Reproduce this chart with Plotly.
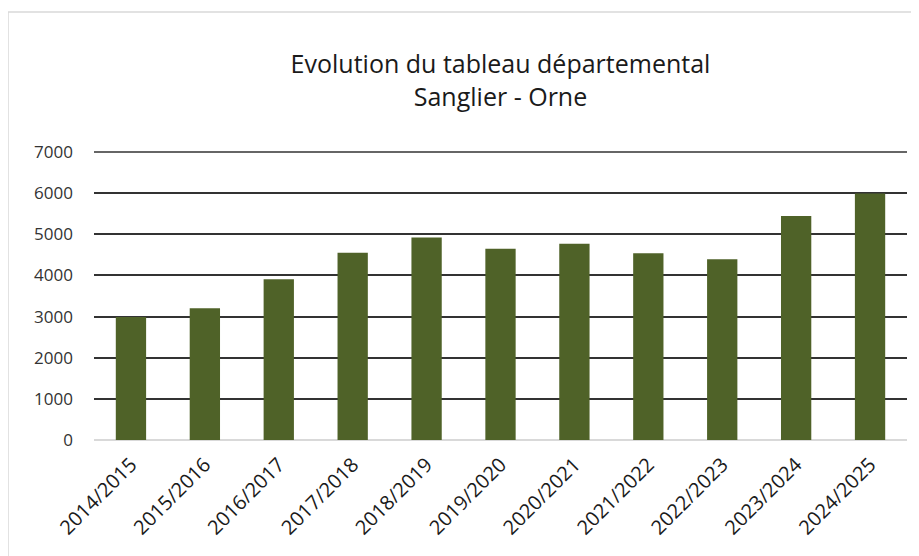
import plotly.graph_objects as go

saisons = ["2014/2015", "2015/2016", "2016/2017", "2017/2018", "2018/2019",
           "2019/2020", "2020/2021", "2021/2022", "2022/2023", "2023/2024", "2024/2025"]
realisations = [2990, 3200, 3910, 4550, 4920, 4650, 4770, 4540, 4395, 5445, 5990]
y_ticks = [0, 1000, 2000, 3000, 4000, 5000, 6000, 7000]

FONT = "Open Sans"

# page body has an 8px default margin: the figure is sized to fit the window
W, H = 911, 548

fig = go.Figure()
fig.add_trace(go.Bar(
    x=saisons, y=realisations,
    marker=dict(color="#4f6228", line=dict(width=0)),
    hoverinfo="x+y",
))

fig.update_layout(
    width=W, height=H,
    margin=dict(l=86, r=12, t=144, b=116),
    paper_bgcolor="white", plot_bgcolor="white",
    bargap=0.59,
    showlegend=False,
    title=dict(
        text="Evolution du tableau départemental<br>Sanglier - Orne",
        x=0.5, xref="paper", xanchor="center",
        y=1 - 65 / H, yref="container", yanchor="middle",
        font=dict(family=FONT, size=25, color="#1a1a1a"),
    ),
    font=dict(family=FONT, color="#333333"),
    xaxis=dict(
        tickangle=-45, tickfont=dict(size=20, color="#1a1a1a"),
        showgrid=False, showline=False, zeroline=False, ticks="",
        ticklabelstandoff=8,
    ),
    yaxis=dict(
        range=[0, 7000], tickvals=y_ticks,
        tickfont=dict(size=17, color="#333333"),
        showgrid=True, gridcolor="#333333", gridwidth=1.5,
        zeroline=True, zerolinecolor="#d9d9d9", zerolinewidth=1.5,
        showline=False, ticks="", ticklabelstandoff=20,
    ),
    shapes=[
        dict(type="rect", xref="paper", yref="paper",
             x0=-86 / 813, x1=1.1, y0=-0.6, y1=1 + 140 / 288,
             line=dict(color="#d9d9d9", width=1.5), fillcolor="rgba(0,0,0,0)",
             layer="below"),
        dict(type="line", xref="paper", yref="paper",
             x0=0, x1=1, y0=1, y1=1,
             line=dict(color="#333333", width=1.5), layer="above"),
    ],
)

fig.write_html("out.html")
